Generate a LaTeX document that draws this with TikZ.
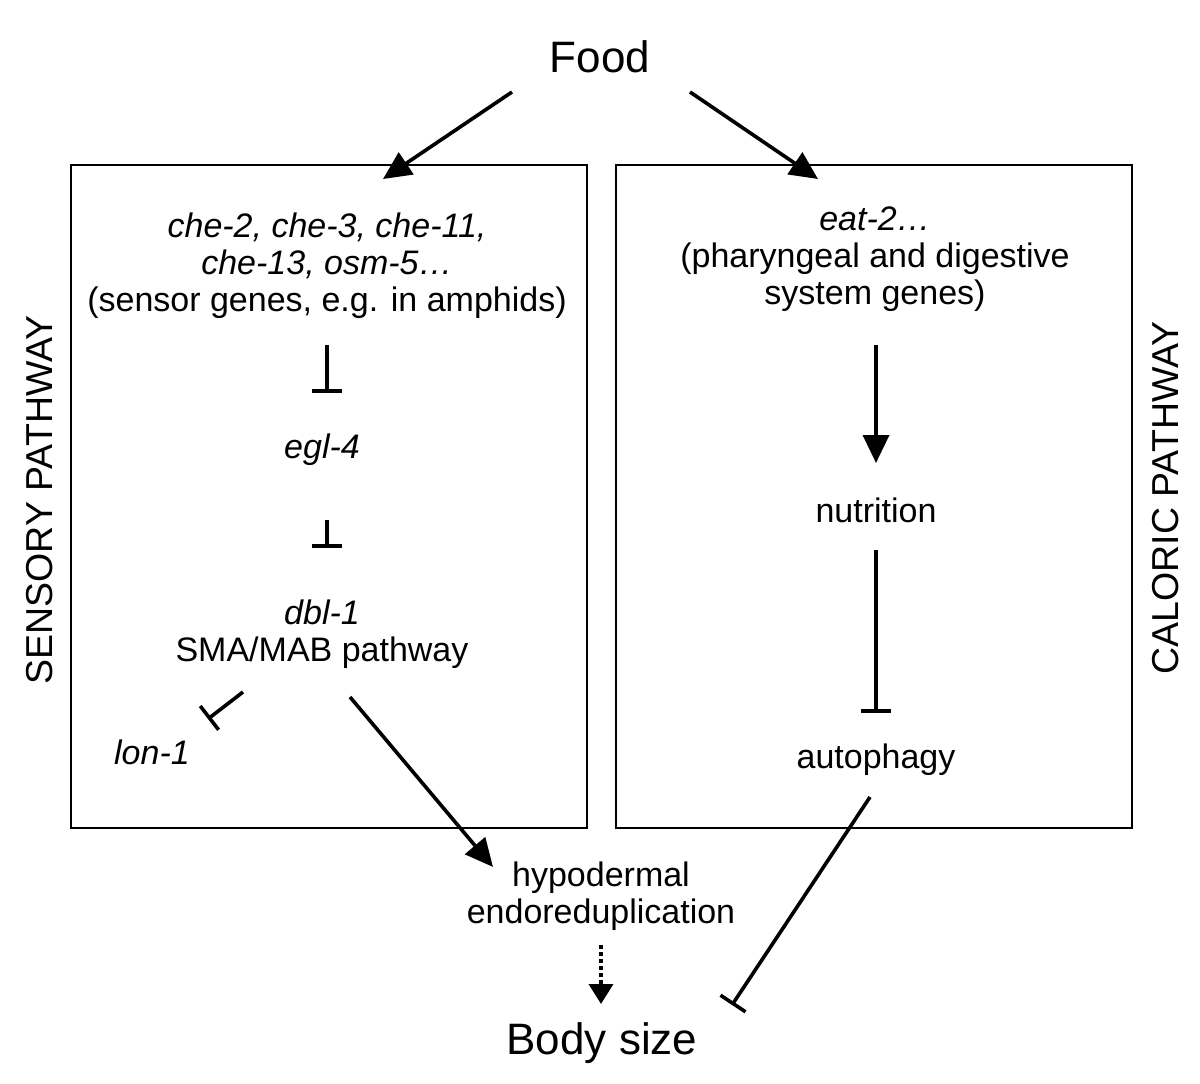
\documentclass[tikz,border=0pt]{standalone}
\usepackage{fontspec}
\setmainfont{Liberation Sans}
\usetikzlibrary{arrows.meta}
\tikzset{
  txt/.style={align=center, font=\fontsize{34}{37}\selectfont, inner sep=0pt},
  big/.style={font=\fontsize{44}{48}\selectfont, inner sep=0pt},
  side/.style={font=\fontsize{37.5}{40}\selectfont, inner sep=0pt, rotate=90},
  panel/.style={draw, line width=2pt},
  act/.style={line width=3.6pt, -{Triangle[length=28pt,width=26pt]}},
  inh/.style={line width=3.6pt, -{Bar[width=30pt,line width=3.6pt]}},
  dot/.style={line width=3.6pt, dash pattern=on 4pt off 3pt, -{Triangle[length=20pt,width=24pt]}}
}
\begin{document}
\begin{tikzpicture}[x=1pt,y=-1pt]
\useasboundingbox (0,0) rectangle (1200,1084);
% boxes
\draw[panel] (71,165) rectangle (587,828);
\draw[panel] (616,165) rectangle (1132,828);
% texts
\node[big] (food) at (600,57) {Food};
\node[big] (body) at (602,1043) {Body size};
\node[txt] (sensor) at (327,266) {\itshape che-2, che-3, che-11,\\ \itshape che-13, osm-5\ldots\\(sensor genes, e.g. in amphids)};
\node[txt] (egl) at (322,450) {\itshape egl-4};
\node[txt] (dbl) at (322,634) {\itshape dbl-1\\SMA/MAB pathway};
\node[txt] (lon) at (152,752) {\itshape lon-1};
\node[txt] (hypo) at (601,896) {hypodermal\\endoreduplication};
\node[txt] (eat) at (875,259) {\itshape eat-2\ldots\\(pharyngeal and digestive\\system genes)};
\node[txt] (nutr) at (876,510) {nutrition};
\node[txt] (auto) at (876,760) {autophagy};
\node[side] (sens) at (40,500) {SENSORY PATHWAY};
\node[side] (calo) at (1166,498) {CALORIC PATHWAY};
% endpoints
\coordinate (f1) at (512,92);   \coordinate (f1e) at (383,179);
\coordinate (f2) at (690,92);   \coordinate (f2e) at (818,179);
\coordinate (i1s) at (327,345); \coordinate (i1e) at (327,393);
\coordinate (i2s) at (327,520); \coordinate (i2e) at (327,548);
\coordinate (l1s) at (243,692); \coordinate (l1e) at (208,719);
\coordinate (h1s) at (350,697); \coordinate (h1e) at (493,867);
\coordinate (d1s) at (601,945); \coordinate (d1e) at (601,1004);
\coordinate (e1s) at (876,345); \coordinate (e1e) at (876,463);
\coordinate (n1s) at (876,550); \coordinate (n1e) at (876,713);
\coordinate (a1s) at (870,797); \coordinate (a1e) at (732,1005);
% connectors
\draw[act] (f1) -- (f1e);
\draw[act] (f2) -- (f2e);
\draw[inh] (i1s) -- (i1e);
\draw[inh] (i2s) -- (i2e);
\draw[inh] (l1s) -- (l1e);
\draw[act] (h1s) -- (h1e);
\draw[dot] (d1s) -- (d1e);
\draw[act] (e1s) -- (e1e);
\draw[inh] (n1s) -- (n1e);
\draw[inh] (a1s) -- (a1e);
\end{tikzpicture}
\end{document}
